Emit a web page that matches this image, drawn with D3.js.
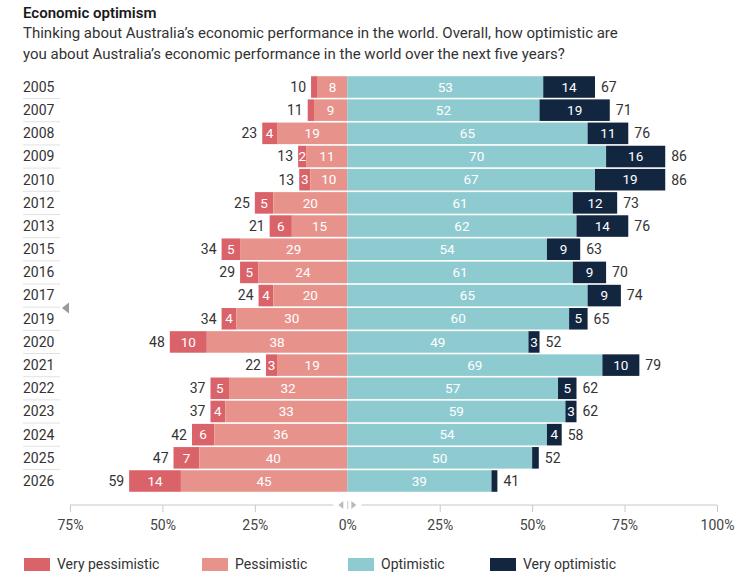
<!DOCTYPE html>
<html>
<head>
<meta charset="utf-8">
<script src="https://cdn.jsdelivr.net/npm/d3@7"></script>
<style>
  body { margin: 0; background: #fff; }
  svg { font-family: Roboto, "Liberation Sans", sans-serif; display: block; }
</style>
</head>
<body>
<svg width="754" height="580"></svg>
<script>
// survey years and answers (%)
const years = ['2005','2007','2008','2009','2010','2012','2013','2015','2016','2017','2019','2020','2021','2022','2023','2024','2025','2026'];
const veryPess = [1.8, 1.7, 4, 2.3, 3, 5, 6, 5, 5, 4, 4, 10, 3, 5, 4, 6, 7, 14];
const pess = [8, 9, 19, 11, 10, 20, 15, 29, 24, 20, 30, 38, 19, 32, 33, 36, 40, 45];
const opt = [53, 52, 65, 70, 67, 61, 62, 54, 61, 65, 60, 49, 69, 57, 59, 54, 50, 39];
const veryOpt = [14, 19, 11, 16, 19, 12, 14, 9, 9, 9, 5, 3, 10, 5, 3, 4, 1.8, 1.6];
const pessTotal = [10, 11, 23, 13, 13, 25, 21, 34, 29, 24, 34, 48, 22, 37, 37, 42, 47, 59];
const optTotal = [67, 71, 76, 86, 86, 73, 76, 63, 70, 74, 65, 52, 79, 62, 62, 58, 52, 41];
const tickVals = [-75, -50, -25, 0, 25, 50, 75, 100];
const legendLabels = ['Very pessimistic', 'Pessimistic', 'Optimistic', 'Very optimistic'];

const colors = ['#da636a', '#e8928c', '#8ecbd1', '#13263f'];

const svg = d3.select('svg');

// heading
svg.append('text').attr('x', 23).attr('y', 18)
  .attr('font-size', 15).attr('font-weight', 600).attr('fill', '#1a1a1a')
  .text('Economic optimism');
const sub = svg.append('text').attr('font-size', 15).attr('fill', '#333');
sub.append('tspan').attr('x', 23).attr('y', 38)
  .text('Thinking about Australia\u2019s economic performance in the world. Overall, how optimistic are');
sub.append('tspan').attr('x', 23).attr('y', 59)
  .text('you about Australia\u2019s economic performance in the world over the next five years?');

const x = d3.scaleLinear().domain([-75, 100]).range([70, 717]);
const y = d3.scaleBand().domain(years).range([75.4, 492.6]).paddingInner(0.07).paddingOuter(0.035);

// build segments: pessimistic stacks leftwards from 0, optimistic rightwards
const segs = [];
years.forEach((yr, i) => {
  segs.push({yr, k: 0, x0: -pess[i] - veryPess[i], x1: -pess[i], v: veryPess[i]});
  segs.push({yr, k: 1, x0: -pess[i], x1: 0, v: pess[i]});
  segs.push({yr, k: 2, x0: 0, x1: opt[i], v: opt[i]});
  segs.push({yr, k: 3, x0: opt[i], x1: opt[i] + veryOpt[i], v: veryOpt[i]});
});

// year labels and separators
svg.append('g').selectAll('text').data(years).join('text')
  .attr('x', 23).attr('y', d => y(d) + y.bandwidth() / 2)
  .attr('dy', '0.35em').attr('font-size', 14).attr('fill', '#333')
  .text(d => d);
svg.append('g').selectAll('line').data(years.slice(1)).join('line')
  .attr('x1', 23).attr('x2', 60)
  .attr('y1', d => y(d) - y.step() * 0.035).attr('y2', d => y(d) - y.step() * 0.035)
  .attr('stroke', '#e2e2e2').attr('stroke-width', 1);

// little scroll marker on the left
svg.append('path').attr('d', 'M62,308L69,302.5L69,313.5Z').attr('fill', '#9a9a9a');

const bars = svg.append('g');
bars.selectAll('rect').data(segs).join('rect')
  .attr('x', d => x(d.x0)).attr('width', d => x(d.x1) - x(d.x0))
  .attr('y', d => y(d.yr)).attr('height', y.bandwidth())
  .attr('fill', d => colors[d.k]);

bars.selectAll('text.seg').data(segs.filter(d => d.v >= 2.2)).join('text')
  .attr('class', 'seg')
  .attr('x', d => (x(d.x0) + x(d.x1)) / 2)
  .attr('y', d => y(d.yr) + y.bandwidth() / 2)
  .attr('dy', '0.35em').attr('text-anchor', 'middle')
  .attr('font-size', 13.5).attr('fill', '#fff')
  .text(d => Math.round(d.v));

// totals either side
svg.append('g').selectAll('text').data(years).join('text')
  .attr('x', (d, i) => x(-pess[i] - veryPess[i]) - 5)
  .attr('y', d => y(d) + y.bandwidth() / 2)
  .attr('dy', '0.35em').attr('text-anchor', 'end')
  .attr('font-size', 14).attr('fill', '#333')
  .text((d, i) => pessTotal[i]);
svg.append('g').selectAll('text').data(years).join('text')
  .attr('x', (d, i) => x(opt[i] + veryOpt[i]) + 6)
  .attr('y', d => y(d) + y.bandwidth() / 2)
  .attr('dy', '0.35em')
  .attr('font-size', 14).attr('fill', '#333')
  .text((d, i) => optTotal[i]);

// axis
const axisY = 505;
const axis = svg.append('g').attr('transform', `translate(0,${axisY})`)
  .call(d3.axisBottom(x).tickValues(tickVals).tickSize(7).tickPadding(8)
    .tickFormat(d => Math.abs(d) + '%'));
axis.select('.domain').remove();
axis.selectAll('.tick line').attr('stroke', '#c8c8c8');
axis.selectAll('.tick text').attr('font-size', 14).attr('fill', '#444')
  .attr('font-family', 'Roboto, sans-serif');
axis.append('line').attr('x1', x(-75)).attr('x2', x(0) - 14).attr('stroke', '#c8c8c8');
axis.append('line').attr('x1', x(0) + 14).attr('x2', x(100)).attr('stroke', '#c8c8c8');
axis.select('.tick:nth-child(4) line').attr('y1', -4).attr('y2', 4);
axis.append('path').attr('d', `M${x(0) - 9},0L${x(0) - 4},-4L${x(0) - 4},4Z`).attr('fill', '#bbb');
axis.append('path').attr('d', `M${x(0) + 9},0L${x(0) + 4},-4L${x(0) + 4},4Z`).attr('fill', '#bbb');

// legend
const legX = [24, 202, 348, 490];
const leg = svg.append('g').selectAll('g').data(legendLabels).join('g')
  .attr('transform', (d, i) => `translate(${legX[i]},558)`);
leg.append('rect').attr('width', 26).attr('height', 13).attr('fill', (d, i) => colors[i]);
leg.append('text').attr('x', 33).attr('y', 6.5).attr('dy', '0.35em')
  .attr('font-size', 14).attr('fill', '#333').text(d => d);
</script>
</body>
</html>
